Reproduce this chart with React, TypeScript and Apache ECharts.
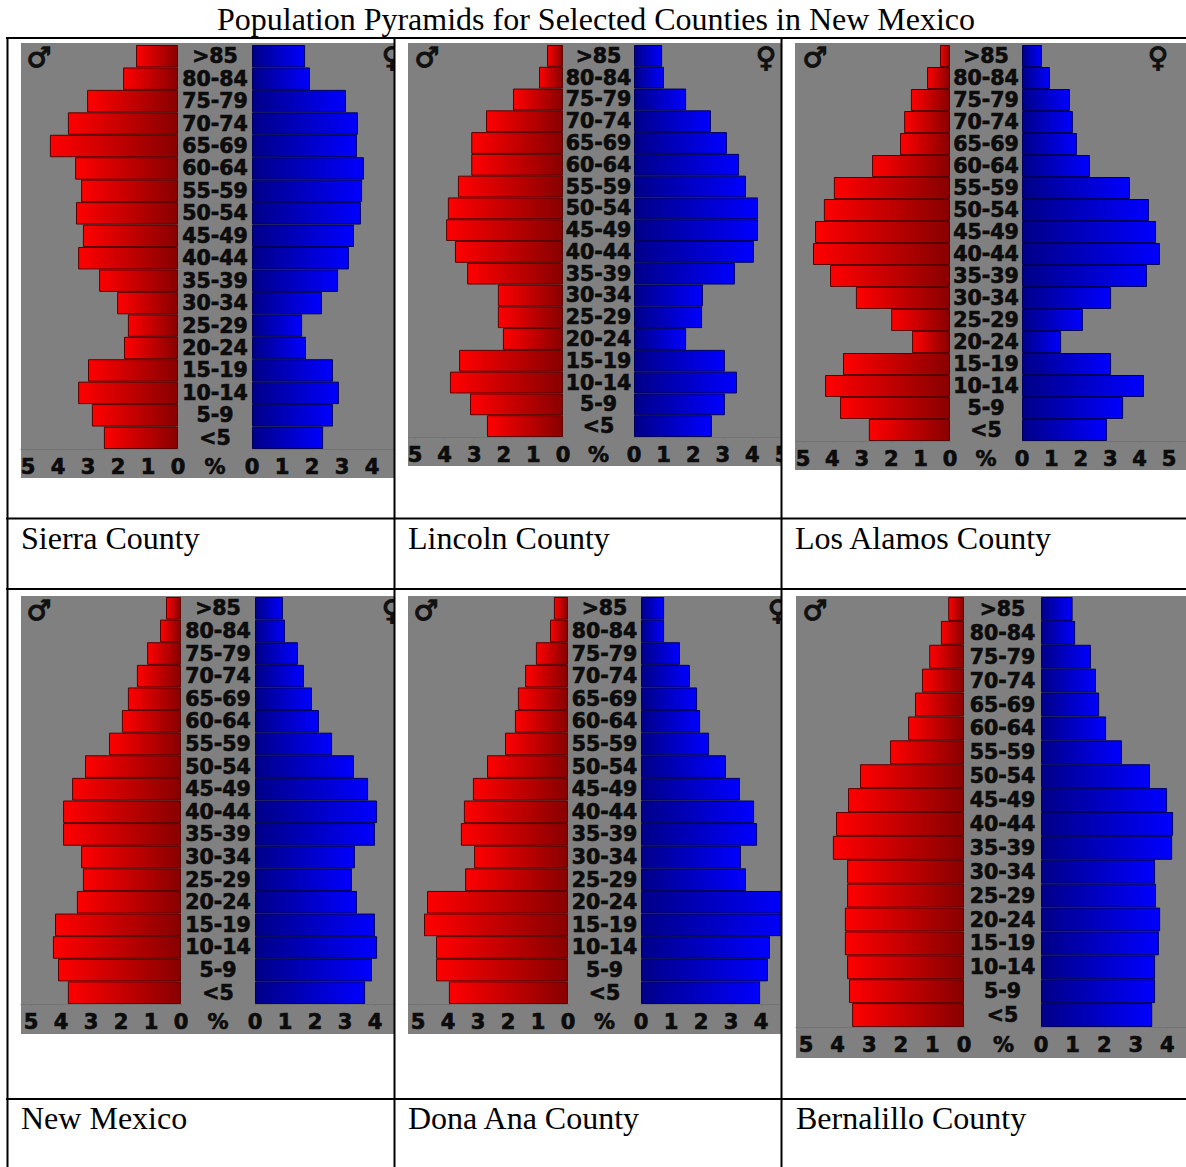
import React, { useEffect, useRef } from "react";
import * as echarts from "echarts";

const ages = [">85","80-84","75-79","70-74","65-69","60-64","55-59","50-54","45-49","40-44","35-39","30-34","25-29","20-24","15-19","10-14","5-9","<5"];
const titleText = "Population Pyramids for Selected Counties in New Mexico";

const sierraMale = [1.4,1.83,3.03,3.67,4.27,3.43,3.23,3.4,3.17,3.33,2.63,2.03,1.67,1.8,3.0,3.33,2.87,2.47];
const sierraFemale = [1.77,1.93,3.13,3.53,3.5,3.73,3.67,3.63,3.4,3.23,2.87,2.33,1.67,1.8,2.7,2.9,2.7,2.37];
const lincolnMale = [.54,.81,1.69,2.6,3.1,3.1,3.55,3.89,3.95,3.65,3.24,2.2,2.2,2.03,3.51,3.82,3.14,2.57];
const lincolnFemale = [.95,1.01,1.76,2.6,3.14,3.55,3.78,4.19,4.19,4.05,3.41,2.33,2.3,1.76,3.07,3.48,3.07,2.63];
const alamosMale = [.34,.78,1.33,1.56,1.7,2.65,3.95,4.29,4.59,4.66,4.08,3.2,2.0,1.29,3.64,4.25,3.74,2.76];
const alamosFemale = [.68,.95,1.63,1.73,1.87,2.31,3.67,4.32,4.56,4.69,4.25,3.03,2.07,1.33,3.03,4.15,3.44,2.89];
const nmMale = [.5,.7,1.13,1.47,1.77,1.97,2.4,3.2,3.63,3.93,3.93,3.33,3.27,3.47,4.2,4.27,4.1,3.77];
const nmFemale = [.93,1.0,1.43,1.63,1.9,2.13,2.57,3.3,3.77,4.07,4.0,3.33,3.23,3.4,4.0,4.07,3.9,3.67];
const donaMale = [.47,.6,1.07,1.43,1.67,1.77,2.1,2.7,3.17,3.47,3.57,3.13,3.43,4.7,4.8,4.4,4.4,3.97];
const donaFemale = [.77,.77,1.3,1.63,1.87,1.97,2.27,2.83,3.3,3.77,3.87,3.33,3.5,4.8,4.9,4.3,4.23,3.97];
const bernMale = [.5,.73,1.1,1.33,1.55,1.77,2.34,3.29,3.67,4.05,4.15,3.7,3.7,3.77,3.77,3.7,3.64,3.54];
const bernFemale = [1.0,1.08,1.58,1.74,1.84,2.06,2.56,3.45,3.99,4.18,4.15,3.61,3.64,3.77,3.73,3.61,3.61,3.52];

const panels = [
  { name: "Sierra County", male: sierraMale, female: sierraFemale, gx: 21, gy: 43, gw: 373, gh: 435, l0: 178, r0: 252, s: 30, top: 45, bottom: 449, capY: 538, marsX: 39, venusX: 392, right: 402 },
  { name: "Lincoln County", male: lincolnMale, female: lincolnFemale, gx: 408, gy: 43, gw: 373, gh: 423, l0: 563, r0: 634, s: 29.6, top: 45, bottom: 437, capY: 538, marsX: 427, venusX: 766, right: 790 },
  { name: "Los Alamos County", male: alamosMale, female: alamosFemale, gx: 795, gy: 43, gw: 391, gh: 427, l0: 950, r0: 1022, s: 29.4, top: 45, bottom: 441, capY: 538, marsX: 815, venusX: 1158, right: 1186 },
  { name: "New Mexico", male: nmMale, female: nmFemale, gx: 21, gy: 596, gw: 373, gh: 438, l0: 181, r0: 255, s: 30, top: 597, bottom: 1004, capY: 1118, marsX: 39, venusX: 392, right: 402 },
  { name: "Dona Ana County", male: donaMale, female: donaFemale, gx: 408, gy: 596, gw: 373, gh: 438, l0: 568, r0: 641, s: 30, top: 597, bottom: 1004, capY: 1118, marsX: 426, venusX: 778, right: 790 },
  { name: "Bernalillo County", male: bernMale, female: bernFemale, gx: 796, gy: 596, gw: 390, gh: 462, l0: 964, r0: 1041, s: 31.6, top: 597, bottom: 1027, capY: 1118, marsX: 815, venusX: 0, right: 1186 },
];

const inkStroke = { textBorderColor: "#0c0c0c", textBorderWidth: 0.7 };
const axisFont = { fontFamily: "DejaVu Sans", fontWeight: "bold" as const, color: "#0c0c0c", ...inkStroke };

function grad(from: string, to: string) {
  return { type: "linear", x: 0, y: 0, x2: 1, y2: 0, colorStops: [{ offset: 0, color: from }, { offset: 1, color: to }] };
}

function buildOption() {
  const grid: any[] = [], xAxis: any[] = [], yAxis: any[] = [], series: any[] = [], graphic: any[] = [];
  panels.forEach((p, i) => {
    const a = i * 2, b = i * 2 + 1;
    grid.push({ left: p.gx, width: p.l0 - p.gx, top: p.top, height: p.bottom - p.top });
    grid.push({ left: p.r0, width: p.right - p.r0, top: p.top, height: p.bottom - p.top });
    const xBase = {
      type: "value", min: 0, interval: 1,
      axisLine: { show: true, onZero: false, lineStyle: { color: "#737373", width: 1 } },
      axisTick: { show: true, length: 2, lineStyle: { color: "#737373" } },
      splitLine: { show: false },
      axisLabel: { ...axisFont, fontSize: 21, margin: 7, showMaxLabel: false, hideOverlap: false },
    };
    xAxis.push({ ...xBase, gridIndex: a, inverse: true, max: (p.l0 - p.gx) / p.s });
    xAxis.push({ ...xBase, gridIndex: b, max: (p.right - p.r0) / p.s });
    const center = (p.l0 + p.r0) / 2 - p.l0;
    yAxis.push({
      type: "category", gridIndex: a, data: ages, inverse: true, position: "right",
      axisLine: { show: false }, axisTick: { show: false },
      axisLabel: { ...axisFont, fontSize: 20.5, align: "center", margin: center, interval: 0 },
    });
    yAxis.push({
      type: "category", gridIndex: b, data: ages, inverse: true,
      axisLine: { show: false }, axisTick: { show: false }, axisLabel: { show: false },
    });
    series.push({
      name: p.name + " male", type: "bar", xAxisIndex: a, yAxisIndex: a, data: p.male,
      barWidth: "100%", barCategoryGap: 0, z: 3,
      itemStyle: { color: grad("#ff0000", "#880000"), borderColor: "#5a0000", borderWidth: 1 },
    });
    series.push({
      name: p.name + " female", type: "bar", xAxisIndex: b, yAxisIndex: b, data: p.female,
      barWidth: "100%", barCategoryGap: 0, z: 3,
      itemStyle: { color: grad("#000088", "#0000ff"), borderColor: "#00005a", borderWidth: 1 },
    });
    graphic.push({ type: "rect", z: -1, silent: true, shape: { x: p.gx, y: p.gy, width: p.gw, height: p.gh }, style: { fill: "#808080" } });
    const symStyle = { fontFamily: "DejaVu Sans", fontWeight: "bold", fontSize: 28, fill: "#111", stroke: "#111", lineWidth: 1.2, textAlign: "center", textVerticalAlign: "middle" };
    graphic.push({ type: "text", z: 10, silent: true, style: { ...symStyle, text: "♂", x: p.marsX, y: p.gy + 14 } });
    if (p.venusX) {
      graphic.push({ type: "text", z: 10, silent: true, style: { ...symStyle, text: "♀", x: p.venusX, y: p.gy + 14 } });
    }
    graphic.push({ type: "text", z: 10, silent: true, style: { fontFamily: "DejaVu Sans", fontWeight: "bold", fontSize: 21, fill: "#0c0c0c", stroke: "#0c0c0c", lineWidth: 0.7, text: "%", x: (p.l0 + p.r0) / 2 + (i === 5 ? 1 : 0), y: p.bottom + 18, textAlign: "center", textVerticalAlign: "middle" } });
    graphic.push({ type: "text", z: 10, silent: true, style: { fontFamily: "Liberation Serif", fontSize: 32, fill: "#000", text: p.name, x: p.gx, y: p.capY, textAlign: "left", textVerticalAlign: "middle" } });
  });
  // white gutters that crop the pictures to their table cells
  [[395, 13], [782, 13]].forEach(([x, w]) => {
    graphic.push({ type: "rect", z: 50, silent: true, shape: { x, y: 39, width: w, height: 1128 }, style: { fill: "#fff" } });
  });
  // table rules
  [38, 518.5, 589, 1099].forEach((y) => {
    graphic.push({ type: "line", z: 60, silent: true, shape: { x1: 6, y1: y, x2: 1186, y2: y }, style: { stroke: "#000", lineWidth: 2 } });
  });
  [7.5, 394.5, 781.5].forEach((x) => {
    graphic.push({ type: "line", z: 60, silent: true, shape: { x1: x, y1: 37, x2: x, y2: 1167 }, style: { stroke: "#000", lineWidth: 2 } });
  });
  return {
    animation: false,
    backgroundColor: "#fff",
    title: { text: titleText, left: 597, top: -2, textAlign: "center", textStyle: { fontFamily: "Liberation Serif", fontWeight: "normal", fontSize: 32, color: "#000" } },
    grid, xAxis, yAxis, series, graphic,
  };
}

export default function App() {
  const ref = useRef<HTMLDivElement>(null);
  useEffect(() => {
    document.body.style.margin = "0";
    const chart = echarts.init(ref.current!, undefined, { renderer: "svg" });
    const opt: any = buildOption();
    opt.title.left = 591;
    chart.setOption(opt);
    return () => chart.dispose();
  }, []);
  return <div ref={ref} style={{ position: "absolute", left: 0, top: 0, width: 1186, height: 1167 }} />;
}
